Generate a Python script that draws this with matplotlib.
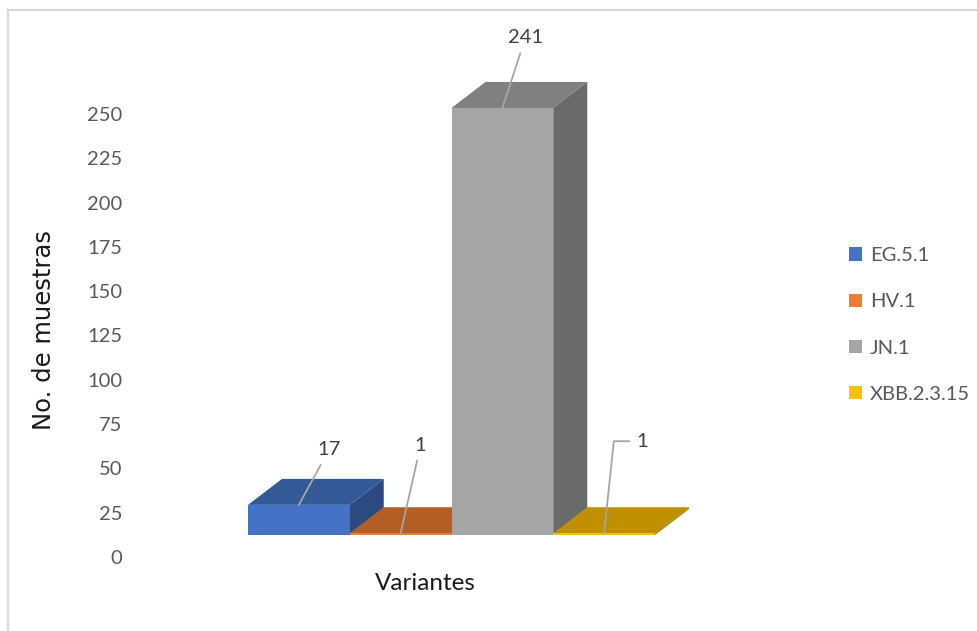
import matplotlib.pyplot as plt
from matplotlib.patches import Polygon, Patch
from matplotlib.lines import Line2D

variantes = ['EG.5.1', 'HV.1', 'JN.1', 'XBB.2.3.15']
muestras = [17, 1, 241, 1]
yticks = [0, 25, 50, 75, 100, 125, 150, 175, 200, 225, 250]

frente = ['#4472C4', '#ED7D31', '#A5A5A5', '#FFC000']
techo = ['#335A96', '#B55E24', '#808080', '#C09000']
lado = ['#2C4A80', '#9C4F1C', '#6A6A6A', '#A87E00']

W, H = 977, 631
fig = plt.figure(figsize=(W / 100, H / 100), dpi=100)

# escala en pixeles
x0_px, base_px = 248, 535
px_x, px_y = 101.75, 1.772
ax_l, ax_r, ax_t, ax_b = 128, 820, 30, 600
ax = fig.add_axes([ax_l / W, 1 - ax_b / H, (ax_r - ax_l) / W, (ax_b - ax_t) / H])
ax.set_xlim((ax_l - x0_px) / px_x, (ax_r - x0_px) / px_x)
ax.set_ylim(-(ax_b - base_px) / px_y, (base_px - ax_t) / px_y)

dx = 34 / px_x   # profundidad
dy = 26 / px_y

for i, v in enumerate(muestras):
    x1, x2 = i, i + 1
    ax.add_patch(Polygon([(x1, 0), (x2, 0), (x2, v), (x1, v)], closed=True,
                         facecolor=frente[i], edgecolor='none', zorder=3))
    ax.add_patch(Polygon([(x1, v), (x2, v), (x2 + dx, v + dy), (x1 + dx, v + dy)],
                         closed=True, facecolor=techo[i], edgecolor='none', zorder=2))
    ax.add_patch(Polygon([(x2, 0), (x2 + dx, dy), (x2 + dx, v + dy), (x2, v)],
                         closed=True, facecolor=lado[i], edgecolor='none', zorder=2))

# etiquetas de datos con linea guia
offsets = [(30, 55), (20, 88), (23, 70), (38, 92)]
for i, v in enumerate(muestras):
    ox, oy = offsets[i]
    conn = 'angle,angleA=180,angleB=84,rad=0' if i == 3 else 'arc3'
    ax.annotate(str(v), xy=(i + 0.5, v), xytext=(ox, oy), textcoords='offset pixels',
                ha='center', va='center', fontsize=14.5, color='#404040',
                family='Lato', zorder=5,
                arrowprops=dict(arrowstyle='-', color='#A6A6A6', lw=1.3,
                                shrinkA=3, shrinkB=0, connectionstyle=conn))

off = 22 / px_y
ax.set_yticks([t - off for t in yticks])
ax.set_yticklabels([str(t) for t in yticks], family='Lato', fontsize=14.5, color='#595959')
ax.tick_params(axis='y', length=0, pad=4)
ax.set_xticks([])
for s in ax.spines.values():
    s.set_visible(False)

fig.text(425 / W, 1 - 584 / H, 'Variantes', ha='center', va='center',
         family='Lato', fontsize=17.5, color='#1a1a1a')
fig.text(44 / W, 1 - 330 / H, 'No. de muestras', ha='center', va='center',
         rotation=90, family='DejaVu Sans', fontsize=17.5, color='#1a1a1a')

handles = [Patch(facecolor=c, edgecolor='none') for c in frente]
fig.legend(handles, variantes, loc='center left',
           bbox_to_anchor=(839 / W, 1 - 325 / H), bbox_transform=fig.transFigure,
           frameon=False, borderpad=0, handlelength=0.65, handleheight=0.65,
           handletextpad=0.4, labelspacing=1.45,
           prop=dict(family='Lato', size=14.5), labelcolor='#595959')

# marco del grafico
fig.add_artist(Line2D([8 / W, 1], [1 - 10 / H, 1 - 10 / H], color='#D9D9D9', lw=1.6,
                      transform=fig.transFigure))
fig.add_artist(Line2D([8 / W, 8 / W], [0, 1 - 10 / H], color='#D9D9D9', lw=1.6,
                      transform=fig.transFigure))

fig.savefig('out.png', dpi=100)
